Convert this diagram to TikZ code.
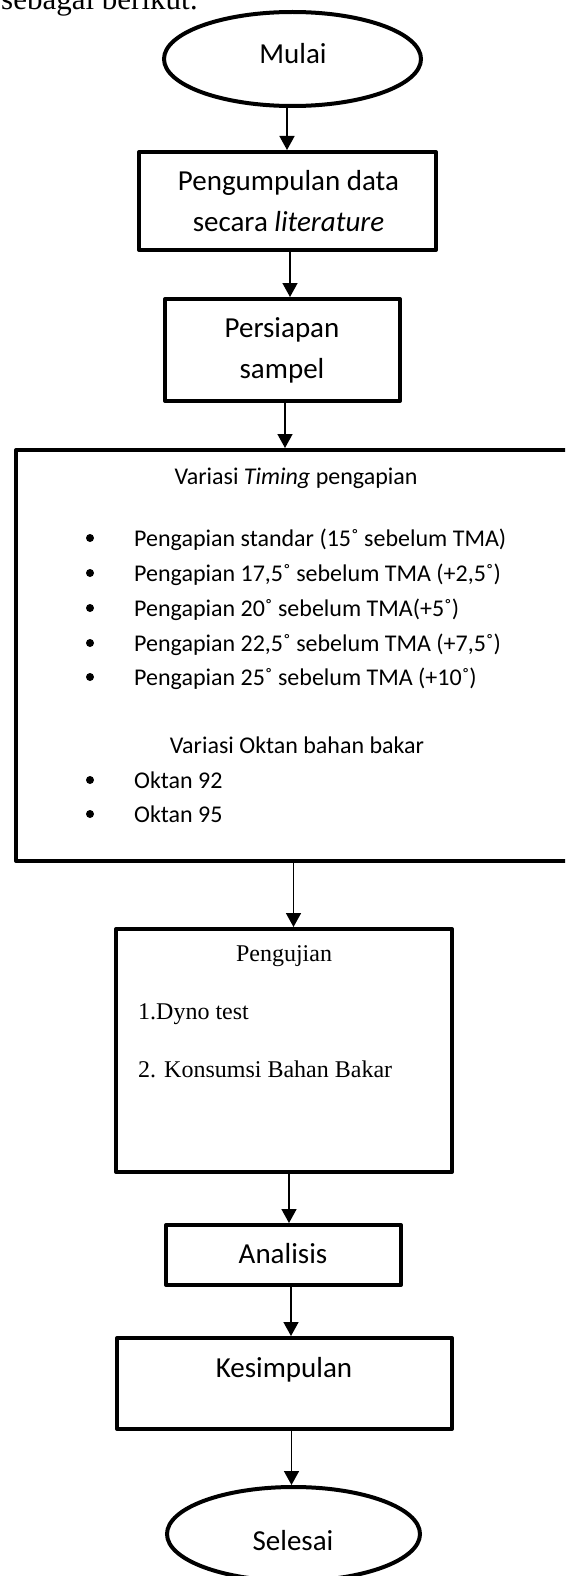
\documentclass[tikz,border=0pt]{standalone}
\usepackage{fontspec}
\setmainfont{Carlito}
\newfontfamily\timesf{Liberation Serif}
\usetikzlibrary{shapes.geometric,arrows.meta,calc}
\begin{document}
\begin{tikzpicture}[x=1pt,y=-1pt,
  boxline/.style={draw, line width=4pt, line join=round, inner sep=0pt, rectangle},
  oval/.style={draw, line width=4pt, ellipse, inner sep=0pt},
  arr/.style={line width=1.6pt, -{Triangle[width=15pt,length=14pt]}},
  txt/.style={inner sep=0pt, anchor=base},
  big/.style={font=\fontsize{29}{35}\selectfont},
  mid/.style={font=\fontsize{24}{29}\selectfont},
  serif/.style={font=\timesf\fontsize{24}{28}\selectfont},
  dot/.style={circle, fill, inner sep=0pt, minimum size=8pt}]
\useasboundingbox (0,0) rectangle (565,1576);
\clip (0,0) rectangle (565,1576);
% shapes
\node[oval, minimum width=257pt, minimum height=94pt] (start) at (292.5,59) {};
\node[boxline, minimum width=297pt, minimum height=98pt] (collect) at (287.5,201) {};
\node[boxline, minimum width=235pt, minimum height=102pt] (prep) at (282.5,350) {};
\node[boxline, minimum width=555pt, minimum height=411pt] (vary) at (293.5,655.5) {};
\node[boxline, minimum width=336pt, minimum height=243pt] (test) at (284,1050.5) {};
\node[boxline, minimum width=235pt, minimum height=60pt] (anal) at (283.5,1255) {};
\node[boxline, minimum width=335pt, minimum height=91pt] (concl) at (284.5,1383.5) {};
\node[oval, minimum width=253pt, minimum height=94pt] (finish) at (293.5,1534) {};
% texts
\node[txt, anchor=base west, font=\timesf\fontsize{31}{31}\selectfont] (intro) at (1,10) {sebagai berikut:};
\node[txt, big] (tmulai) at (293,64) {Mulai};
\node[txt, big] (tc1) at (288.5,190) {Pengumpulan data};
\node[txt, big] (tc2) at (288.5,231) {secara \textit{literature}};
\node[txt, big] (tp1) at (282,337) {Persiapan};
\node[txt, big] (tp2) at (282,378) {sampel};
\node[txt, mid] (tv0) at (296,484) {Variasi \textit{Timing} pengapian};
\node[dot] (b1) at (90,538) {};
\node[txt, mid, anchor=base west] (i1) at (134,546) {Pengapian standar (15˚ sebelum TMA)};
\node[dot] (b2) at (90,573) {};
\node[txt, mid, anchor=base west] (i2) at (134,581) {Pengapian 17,5˚ sebelum TMA (+2,5˚)};
\node[dot] (b3) at (90,608) {};
\node[txt, mid, anchor=base west] (i3) at (134,616) {Pengapian 20˚ sebelum TMA(+5˚)};
\node[dot] (b4) at (90,643) {};
\node[txt, mid, anchor=base west] (i4) at (134,651) {Pengapian 22,5˚ sebelum TMA (+7,5˚)};
\node[dot] (b5) at (90,677) {};
\node[txt, mid, anchor=base west] (i5) at (134,685) {Pengapian 25˚ sebelum TMA (+10˚)};
\node[txt, mid] (tv1) at (297,753) {Variasi Oktan bahan bakar};
\node[dot] (b6) at (90,780) {};
\node[txt, mid, anchor=base west] (i6) at (134,788) {Oktan 92};
\node[dot] (b7) at (90,814) {};
\node[txt, mid, anchor=base west] (i7) at (134,822) {Oktan 95};
\node[txt, serif] (tt0) at (284,961) {Pengujian};
\node[txt, serif, anchor=base west] (tt1) at (138,1019) {1.Dyno test};
\node[txt, serif, anchor=base west] (tt2) at (138,1077) {2. Konsumsi Bahan Bakar};
\node[txt, big] (ta) at (283,1263) {Analisis};
\node[txt, big] (tk) at (284,1377) {Kesimpulan};
\node[txt, big] (ts) at (293,1550) {Selesai};
% connectors
\draw[arr] ($(start.south)+(-5.5,0)$) -- ($(collect.north)+(-0.5,0)$);
\draw[arr] ($(collect.south)+(2.5,0)$) -- ($(prep.north)+(7.5,0)$);
\draw[arr] ($(prep.south)+(2.5,0)$) -- ($(vary.north)+(-8.5,0)$);
\draw[arr] (vary.south) -- ($(test.north)+(9.5,0)$);
\draw[arr] ($(test.south)+(5,0)$) -- ($(anal.north)+(5.5,0)$);
\draw[arr] ($(anal.south)+(7.5,0)$) -- ($(concl.north)+(6.5,0)$);
\draw[arr] ($(concl.south)+(7,0)$) -- ($(finish.north)+(-2,0)$);
\end{tikzpicture}
\end{document}
